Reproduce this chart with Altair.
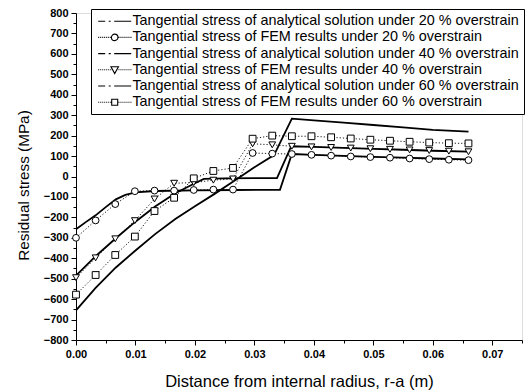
import altair as alt
import pandas as pd

# ---------------- data ----------------
labels = [
    "Tangential stress of analytical solution under 20 % overstrain",
    "Tangential stress of FEM results under 20 % overstrain",
    "Tangential stress of analytical solution under 40 % overstrain",
    "Tangential stress of FEM results under 40 % overstrain",
    "Tangential stress of analytical solution under 60 % overstrain",
    "Tangential stress of FEM results under 60 % overstrain",
]

fem_x = [0.0, 0.0033, 0.0066, 0.0099, 0.0132, 0.0165, 0.0198, 0.0231, 0.0264,
         0.0297, 0.033, 0.0363, 0.0396, 0.0429, 0.0462, 0.0495, 0.0528, 0.0561,
         0.0594, 0.0627, 0.066]
fem20 = [-300, -215, -135, -72, -69, -69, -66, -64, -64, 115, 112, 110, 106,
         102, 98, 95, 92, 88, 85, 82, 80]
fem40 = [-495, -398, -305, -216, -110, -33, -30, -18, -12, 160, 155, 148, 145,
         142, 139, 136, 133, 130, 127, 124, 121]
fem60 = [-578, -482, -384, -294, -169, -104, -9, 27, 42, 185, 200, 197, 197,
         192, 186, 180, 175, 170, 166, 163, 162]

an20_x = [0.0, 0.0017, 0.0033, 0.005, 0.0067, 0.0083, 0.01, 0.0133, 0.02,
          0.027, 0.0343, 0.0363, 0.04, 0.045, 0.05, 0.055, 0.06, 0.066]
an20_y = [-258, -222, -190, -150, -112, -90, -78, -71, -68, -66, -65, 110,
          106, 101, 96, 92, 88, 84]
an40_x = [0.0, 0.0033, 0.0067, 0.01, 0.0133, 0.0167, 0.02, 0.0215, 0.025,
          0.03, 0.0338, 0.0362, 0.04, 0.045, 0.05, 0.055, 0.06, 0.066]
an40_y = [-485, -390, -302, -221, -147, -82, -33, -12, -9, -8, -8, 148, 145,
          140, 135, 131, 126, 122]
an60_x = [0.0, 0.0033, 0.0067, 0.01, 0.0133, 0.0167, 0.02, 0.0233, 0.0267,
          0.03, 0.0333, 0.0363, 0.04, 0.045, 0.05, 0.055, 0.06, 0.066]
an60_y = [-655, -545, -445, -362, -282, -208, -145, -85, -20, 45, 105, 283,
          275, 264, 252, 240, 228, 220]

x_ticks = [0.0, 0.005, 0.01, 0.015, 0.02, 0.025, 0.03, 0.035, 0.04, 0.045,
           0.05, 0.055, 0.06, 0.065, 0.07, 0.075]
y_ticks = list(range(-800, 801, 50))

# legend symbols (custom SVG paths)
dashdot = "M-1,0H0.4M1.1,0H1.5M2.2,0H5.6"
dots_l = "".join(f"M{-1 + 0.4 * k:.2f},0h0.2" for k in range(7))
dots_r = "".join(f"M{3.05 + 0.4 * k:.2f},0h0.2" for k in range(7))
circle_p = "M1.65,0A0.65,0.65 0 1,1 2.95,0A0.65,0.65 0 1,1 1.65,0Z"
tri_p = "M1.55,-0.6L3.05,-0.6L2.3,0.75Z"
sq_p = "M1.7,-0.6H2.9V0.6H1.7Z"
paths = [dashdot, dots_l + circle_p + dots_r, dashdot,
         dots_l + tri_p + dots_r, dashdot, dots_l + sq_p + dots_r]

# ---------------- tables ----------------
an_rows = []
for lab, xs, ys in [(labels[0], an20_x, an20_y), (labels[2], an40_x, an40_y),
                    (labels[4], an60_x, an60_y)]:
    for i, (a, b) in enumerate(zip(xs, ys)):
        an_rows.append({"x": a, "y": b, "series": lab, "o": i})
df_an = pd.DataFrame(an_rows)

fem_rows = []
for lab, ys, shp in [(labels[1], fem20, "circle"), (labels[3], fem40, "triangle-down"),
                     (labels[5], fem60, "square")]:
    for i, (a, b) in enumerate(zip(fem_x, ys)):
        fem_rows.append({"x": a, "y": b, "series": lab, "shape": shp, "o": i})
df_fem = pd.DataFrame(fem_rows)

df_leg = pd.DataFrame({"series": labels, "x": [0.0] * 6, "y": [0.0] * 6})

FONT = "Liberation Sans"

xaxis = alt.Axis(
    values=x_ticks,
    labelExpr="abs(datum.value*100 - round(datum.value*100)) < 0.001 ? format(datum.value, '.2f') : ''",
    tickSize={"condition": {"test": "abs(datum.value*100 - round(datum.value*100)) < 0.001", "value": 5}, "value": 3},
    labelOverlap=False, labelFlush=False, grid=False,
    title="Distance from internal radius, r-a (m)",
    labelFont=FONT, labelFontSize=11, labelFontWeight="bold", labelPadding=3,
    titleFont=FONT, titleFontSize=16.5, titleFontWeight="normal", titlePadding=14,
    domainColor="black", tickColor="black", labelColor="black", titleColor="black",
)
yaxis = alt.Axis(
    values=y_ticks,
    labelExpr="datum.value % 100 == 0 ? format(datum.value, 'd') : ''",
    tickSize={"condition": {"test": "datum.value % 100 == 0", "value": 5}, "value": 3},
    labelOverlap=False, labelFlush=False, grid=False,
    title="Residual stress (MPa)",
    labelFont=FONT, labelFontSize=11, labelFontWeight="bold", labelPadding=3,
    titleFont=FONT, titleFontSize=15.3, titleFontWeight="normal", titlePadding=12,
    titleY=172, titleAlign="center",
    domainColor="black", tickColor="black", labelColor="black", titleColor="black",
)

X = alt.X("x:Q", scale=alt.Scale(domain=[0, 0.075], nice=False, zero=False), axis=xaxis)
Y = alt.Y("y:Q", scale=alt.Scale(domain=[-800, 800], nice=False, zero=False), axis=yaxis)

an_layer = alt.Chart(df_an).mark_line(color="black", strokeWidth=1.8).encode(
    X, Y, detail="series:N", order="o:Q")
fem_line = alt.Chart(df_fem).mark_line(color="black", strokeWidth=0.9, strokeDash=[1.2, 2]).encode(
    X, Y, detail="series:N", order="o:Q")
fem_pts = alt.Chart(df_fem).mark_point(filled=True, fill="white", stroke="black",
                                       strokeWidth=1, size=46, opacity=1).encode(
    X, Y, shape=alt.Shape("shape:N", scale=None))

leg_layer = alt.Chart(df_leg).mark_point(filled=False, color="black", strokeWidth=1.1).encode(
    X, Y,
    shape=alt.Shape("series:N", scale=alt.Scale(domain=labels, range=paths),
                    legend=alt.Legend(title=None, orient="none", legendX=15, legendY=-4,
                                      direction="vertical", fillColor="white",
                                      strokeColor="black", padding=5,
                                      symbolSize=100, symbolStrokeWidth=1.1,
                                      symbolStrokeColor="black",
                                      labelFont=FONT, labelFontSize=14.4,
                                      labelColor="black", labelOffset=22,
                                      rowPadding=1.2, labelLimit=0)),
).transform_filter(alt.datum.x > 1)

chart = alt.layer(an_layer, fem_line, fem_pts, leg_layer).properties(
    width=446, height=327,
    autosize=alt.AutoSizeParams(type="none"),
    padding={"left": 76, "top": 13, "right": 8, "bottom": 52},
    background="white",
).configure_view(stroke=None).configure(font=FONT)

chart.save("out.html", embed_options={"renderer": "svg", "actions": False})
